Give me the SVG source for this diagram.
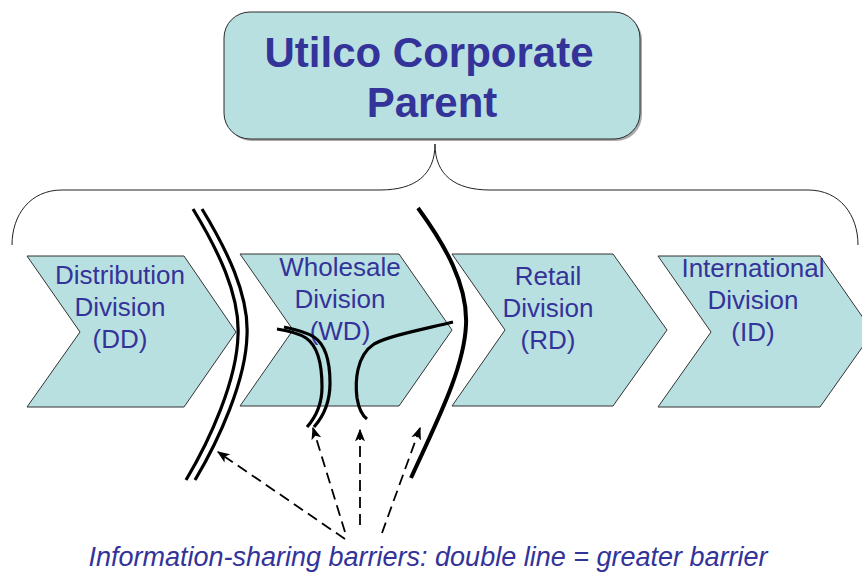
<svg xmlns="http://www.w3.org/2000/svg" width="862" height="574" viewBox="0 0 862 574">
  <style>
    .box { fill: #b9e0e1; stroke: #2b2b2b; stroke-width: 1; }
    .chev { fill: #b9e0e1; stroke: #333; stroke-width: 1; }
    .title { font-family: "Liberation Sans", Arial, sans-serif; font-weight: bold; font-size: 42px; fill: #333399; text-anchor: middle; }
    .label { font-family: "Liberation Sans", Arial, sans-serif; font-size: 26px; fill: #333399; text-anchor: middle; }
    .note { font-family: "Liberation Sans", Arial, sans-serif; font-style: italic; font-size: 27px; fill: #333399; text-anchor: middle; }
    .brace { fill: none; stroke: #222; stroke-width: 1; }
    .barrier { fill: none; stroke: #000; stroke-width: 3.2; stroke-linecap: butt; }
    .barrier-single { fill: none; stroke: #000; stroke-width: 4; }
    .pointer { fill: none; stroke: #000; stroke-width: 1.8; stroke-dasharray: 11 6; marker-end: url(#tip); }
  </style>
  <defs>
    <marker id="tip" viewBox="0 0 10 10" refX="9" refY="5" markerWidth="7" markerHeight="7" markerUnits="strokeWidth" orient="auto">
      <path d="M0,1 L10,5 L0,9 L2.5,5 Z" fill="#000"/>
    </marker>
  </defs>

  <rect width="862" height="574" fill="#ffffff"/>

  <!-- corporate parent -->
  <g id="parent">
    <rect x="226" y="14" width="416" height="127" rx="26" fill="#555" opacity="0.5"/>
    <rect class="box" x="224" y="12" width="416" height="127" rx="26"/>
    <text class="title" x="429" y="67">Utilco Corporate</text>
    <text class="title" x="432" y="117">Parent</text>
  </g>

  <!-- brace grouping the divisions -->
  <g id="brace">
    <path class="brace" d="M435,144 C435,175 415,190 380,190 L62,190 C30,190 12,215 12,245"/>
    <path class="brace" d="M435,144 C435,175 455,190 490,190 L808,190 C840,190 858,215 858,245"/>
  </g>

  <!-- divisions -->
  <g id="dd">
    <polygon class="chev" points="27,256 184,256 236,332 184,407 27,407 80,332"/>
    <text class="label" x="120" y="284">Distribution</text>
    <text class="label" x="120" y="316">Division</text>
    <text class="label" x="120" y="348">(DD)</text>
  </g>
  <g id="wd">
    <polygon class="chev" points="240,254 399,254 452,330 399,406 240,406 293,330"/>
    <text class="label" x="340" y="276">Wholesale</text>
    <text class="label" x="340" y="308">Division</text>
    <text class="label" x="340" y="340">(WD)</text>
  </g>
  <g id="rd">
    <polygon class="chev" points="452,254 613,254 667,330 613,406 452,406 505,330"/>
    <text class="label" x="548" y="285">Retail</text>
    <text class="label" x="548" y="317">Division</text>
    <text class="label" x="548" y="349">(RD)</text>
  </g>
  <g id="id">
    <polygon class="chev" points="658,256 820,256 873,332 820,407 658,407 711,332"/>
    <text class="label" x="753" y="277">International</text>
    <text class="label" x="753" y="309">Division</text>
    <text class="label" x="753" y="341">(ID)</text>
  </g>

  <!-- information-sharing barriers -->
  <g id="barriers">
    <path class="barrier" d="M193,209 C218,250 240,295 238,335 C237,380 210,440 186,480"/>
    <path class="barrier" d="M202,209 C227,250 249,295 247,335 C246,380 219,440 195,480"/>
    <path class="barrier-single" d="M418,208 C445,245 468,285 466,325 C464,370 435,425 411,478"/>
    <path class="barrier" d="M277,329 C290,331 300,334 306,338 C318,346 322,365 322,387 C322,405 315,418 307,427"/>
    <path class="barrier" d="M284,327 C298,330 308,333 314,337 C326,345 330,362 330,383 C330,403 322,418 314,427"/>
    <path class="barrier" d="M453,322 C420,330 388,336 374,344 C356,356 355,382 357,398 C359,410 363,416 367,419"/>
  </g>

  <!-- connectors: dashed pointers from the note to each barrier -->
  <g id="connectors">
    <line class="pointer" x1="345" y1="539" x2="218" y2="452"/>
    <line class="pointer" x1="345" y1="532" x2="313" y2="428"/>
    <line class="pointer" x1="360" y1="525" x2="360" y2="430"/>
    <line class="pointer" x1="382" y1="533" x2="420" y2="428"/>
  </g>

  <g id="note">
    <text class="note" x="428" y="566">Information-sharing barriers: double line = greater barrier</text>
  </g>
</svg>
